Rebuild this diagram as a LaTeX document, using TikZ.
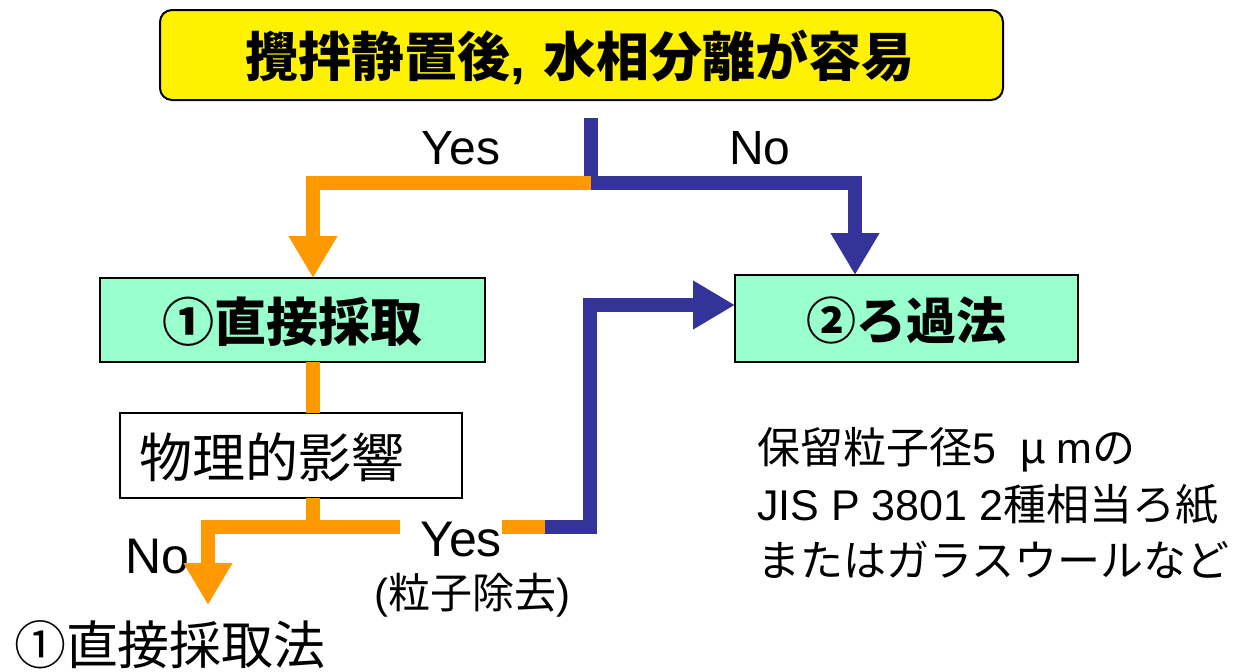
\documentclass[tikz,border=0pt]{standalone}
\usepackage{fontspec}
\setmainfont{Liberation Sans}
\newfontfamily\cjk{Noto Sans CJK JP}
\usetikzlibrary{arrows.meta}
\definecolor{orng}{HTML}{FF9900}
\definecolor{blu}{HTML}{333399}
\definecolor{mint}{HTML}{99FFCC}
\tikzset{
  box/.style={draw=black, line width=2pt, inner sep=0pt, outer sep=0pt},
  oline/.style={draw=orng, line width=14pt},
  bline/.style={draw=blu, line width=14pt},
  tip/.style={-{Triangle[width=46pt,length=42pt]}},
  lbl/.style={inner sep=0pt, outer sep=0pt},
}
\newcommand{\fs}[1]{\fontsize{#1}{#1}\selectfont}
\begin{document}
\begin{tikzpicture}[x=1pt,y=-1pt]
\useasboundingbox (0,0) rectangle (1251,672);
% boxes
\node[box, fill=yellow, rounded corners=12pt, minimum width=843pt, minimum height=90pt] (top) at (581.5,55) {};
\node[lbl] (toptext) at (580,57) {\fs{53}\cjk\bfseries 攪拌静置後{\normalfont\fs{53}\bfseries,}\hspace{18pt}水相分離が容易};
\node[box, fill=mint, minimum width=385pt, minimum height=84pt] (b1) at (292.5,320) {};
\node[lbl] (b1text) at (292.5,322) {\fs{52}\cjk\bfseries ①直接採取};
\node[box, fill=mint, minimum width=343pt, minimum height=87pt] (b2) at (906.5,318.5) {};
\node[lbl] (b2text) at (906,320) {\fs{50}\cjk\bfseries ②ろ過法};
\node[box, fill=white, minimum width=342pt, minimum height=85pt] (b3) at (291,455.5) {};
\node[lbl, anchor=west] (b3text) at (139,457) {\fs{53}\cjk 物理的影響};
% coordinates
\coordinate (s0) at (591,118);
\coordinate (s1) at (591,183);
\coordinate (yl) at (313,183);
\coordinate (nr) at (855,183);
\coordinate (j1) at (313,527);
\coordinate (nl) at (208,527);
\coordinate (nend) at (208,605);
\coordinate (ga) at (400,527);
\coordinate (gb) at (502,527);
\coordinate (mid) at (545,527);
\coordinate (c1) at (590,527);
\coordinate (c2) at (590,305);
\coordinate (c3) at (735,305);
% top labels
\node[lbl] (yes1) at (461,148) {\fs{48}Yes};
\node[lbl] (no1) at (760,148) {\fs{48}No};
% top connectors
\draw[bline, tip] (s0) -- (s1) -- (nr) -- (b2.north -| nr);
\draw[oline, tip] (s1) -- (yl) -- (b1.north -| yl);
% lower connectors
\draw[oline] (b1.south -| yl) -- (b3.north -| yl);
\node[lbl] (no2) at (157,557) {\fs{50}No};
\draw[oline] (b3.south -| yl) -- (j1);
\draw[oline, tip] (j1) -- (nl) -- (nend);
\draw[oline] (j1) -- (ga);
\draw[oline] (gb) -- (mid);
\draw[bline, tip] (mid) -- (c1) -- (c2) -- (c3);
\node[lbl] (yes2) at (461,540) {\fs{50}Yes};
\node[lbl] (pr) at (472,595) {\fs{42}(\cjk 粒子除去\normalfont)};
\node[lbl] (bottom) at (170,645) {\fs{52}\cjk ①直接採取法};
% right text
\node[lbl, anchor=west] (r1) at (757,450) {\fs{43}{\cjk 保留粒子径}5\hspace{24pt}{\cjk μ}\hspace{10pt}m{\cjk の}};
\node[lbl, anchor=west] (r2) at (757,505) {\fs{43}JIS P 3801 2{\cjk 種相当ろ紙}};
\node[lbl, anchor=west] (r3) at (757,560) {\fs{43}\cjk またはガラスウールなど};
\end{tikzpicture}
\end{document}
